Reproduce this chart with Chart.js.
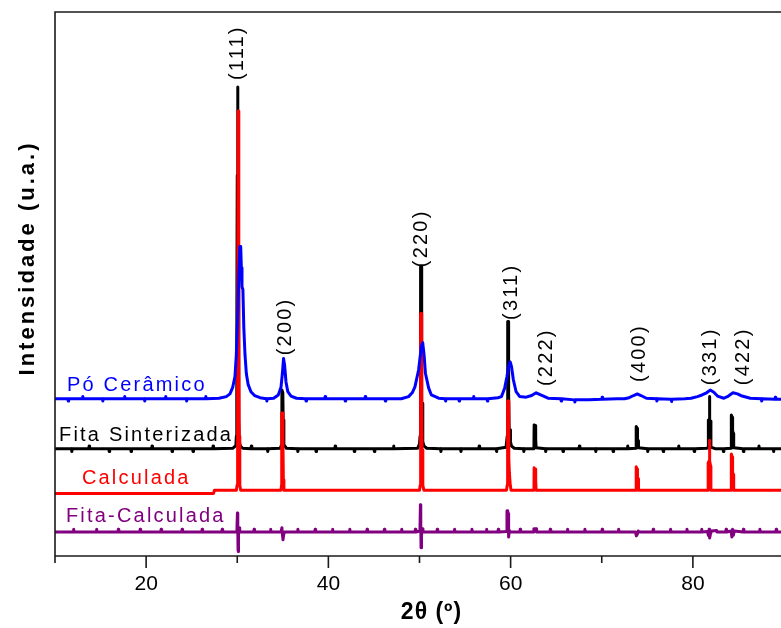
<!DOCTYPE html>
<html><head><meta charset="utf-8">
<script src="https://cdn.jsdelivr.net/npm/chart.js@4"></script>
<style>html,body{margin:0;padding:0;background:#fff;overflow:hidden;width:781px;height:628px}canvas{display:block}</style>
</head><body><canvas id="c" width="800" height="628"></canvas>
<script>
// ===== DATA (2θ in degrees, intensity in arbitrary units, traces offset) =====
const poCeramico = [[10,28.9],[11.4,28.9],[11.45,28.5],[11.5,28.9],[13.0,28.9],[13.05,29.3],[13.1,28.9],[15.2,28.9],[15.25,28.5],[15.3,28.9],[17.6,28.9],[17.65,29.3],[17.7,28.9],[19.8,28.9],[19.85,28.5],[19.9,28.9],[22.1,28.9],[22.15,29.3],[22.2,28.9],[24.4,28.9],[24.45,28.5],[24.5,28.9],[26.5,28.9],[26.55,29.3],[26.6,28.9],[28.0,29.0],[28.8,29.3],[29.2,29.8],[29.5,31],[29.75,33],[29.9,37],[30.05,44],[30.18,52],[30.28,56.9],[30.38,56.9],[30.45,53],[30.52,49.5],[30.62,49],[30.72,42],[30.85,37],[31.0,33.5],[31.2,31.5],[31.5,30.2],[31.9,29.5],[32.5,29.1],[33.2,28.9],[33.25,28.5],[33.3,28.9],[34.0,29.0],[34.5,29.6],[34.8,31.0],[34.95,33.5],[35.08,36.3],[35.2,35],[35.35,32],[35.55,30.2],[35.9,29.4],[36.5,29.0],[37.5,28.9],[37.55,28.5],[37.6,28.9],[39.6,28.9],[39.65,29.3],[39.7,28.9],[41.8,28.9],[41.85,28.5],[41.9,28.9],[44.0,28.9],[44.05,29.3],[44.1,28.9],[46.2,28.9],[46.25,28.5],[46.3,28.9],[48.0,28.9],[48.8,29.3],[49.2,30.0],[49.5,31.1],[49.9,34.2],[50.2,38.5],[50.35,39.2],[50.5,37],[50.65,33.6],[51.0,30.9],[51.3,29.6],[52.1,29.0],[52.8,28.9],[52.85,28.5],[52.9,28.9],[54.3,28.9],[54.35,28.5],[54.4,28.9],[55.9,28.9],[55.95,29.3],[56.0,28.9],[57.4,28.9],[57.45,28.5],[57.5,28.9],[58.6,29.1],[59.0,29.3],[59.35,30.9],[59.6,33.0],[59.8,35],[59.95,35.7],[60.1,34.8],[60.3,32.4],[60.6,30.2],[61.0,29.3],[61.7,29.2],[62.3,29.5],[62.8,30.0],[63.3,29.6],[64.1,29.0],[65.5,28.9],[65.55,28.5],[65.6,28.9],[67.0,28.7],[67.05,28.3],[67.1,28.7],[68.6,28.7],[70.0,28.8],[70.05,29.2],[70.1,28.8],[71.7,28.9],[72.5,28.9],[73.0,29.1],[73.5,29.5],[73.9,29.8],[74.3,29.5],[74.9,29.0],[76.0,28.9],[76.05,28.5],[76.1,28.9],[77.6,28.8],[77.65,28.4],[77.7,28.8],[79.1,28.9],[79.8,29.0],[80.5,29.3],[81.0,29.6],[81.5,30.0],[81.9,30.5],[82.3,30.1],[82.7,29.4],[83.4,29.0],[83.9,29.4],[84.4,30.0],[84.9,29.8],[85.4,29.4],[86.3,29.0],[87.5,28.9],[87.55,28.5],[87.6,28.9],[89.0,28.8],[89.05,29.2],[89.1,28.8],[90,28.8]];

const fitaSinterizada = [[10,19.7],[11.8,19.7],[11.85,19.2],[11.9,19.7],[13.7,19.7],[13.75,20.2],[13.8,19.7],[15.9,19.7],[15.95,19.2],[16.0,19.7],[18.3,19.7],[18.35,19.2],[18.4,19.7],[20.6,19.7],[20.65,20.2],[20.7,19.7],[22.8,19.7],[22.85,19.2],[22.9,19.7],[25.1,19.7],[25.15,19.2],[25.2,19.7],[27.3,19.7],[27.35,20.2],[27.4,19.7],[29.5,19.8],[29.85,20.3],[29.9,22],[29.95,40],[30.0,70],[30.04,86.2],[30.08,70],[30.1,52],[30.14,40],[30.18,25],[30.22,21],[30.35,20.2],[30.6,19.8],[31.5,19.7],[31.55,20.2],[31.6,19.7],[33.3,19.7],[33.35,19.2],[33.4,19.7],[34.7,19.8],[34.88,20.5],[34.9,30.5],[35.0,30],[35.04,25],[35.1,24],[35.13,20.5],[35.4,19.8],[36.6,19.7],[36.65,19.2],[36.7,19.7],[38.6,19.7],[38.65,19.2],[38.7,19.7],[40.7,19.7],[40.75,20.2],[40.8,19.7],[42.8,19.7],[42.85,19.2],[42.9,19.7],[45.0,19.7],[45.05,19.2],[45.1,19.7],[47.1,19.7],[47.15,20.2],[47.2,19.7],[49.8,19.8],[50.0,20.6],[50.06,22],[50.1,40],[50.14,53.2],[50.18,53.2],[50.22,40],[50.26,28.1],[50.32,28.1],[50.36,21],[50.5,20.2],[50.8,19.8],[52.3,19.7],[52.35,19.2],[52.4,19.7],[54.5,19.7],[54.55,19.2],[54.6,19.7],[56.5,19.7],[56.55,20.2],[56.6,19.7],[58.4,19.7],[58.45,19.2],[58.5,19.7],[59.5,20.0],[59.62,22],[59.66,35],[59.7,43.1],[59.74,43.1],[59.78,30],[59.84,23.2],[59.94,23.2],[59.98,21],[60.1,20.2],[60.4,19.8],[61.4,19.7],[61.45,19.2],[61.5,19.7],[62.5,19.7],[62.56,20],[62.58,24.1],[62.68,24.0],[62.72,22],[62.78,21.5],[62.8,19.9],[63.8,19.7],[63.85,19.2],[63.9,19.7],[65.7,19.7],[65.75,19.2],[65.8,19.7],[67.5,19.7],[67.55,20.2],[67.6,19.7],[69.3,19.7],[69.35,19.2],[69.4,19.7],[71.2,19.7],[71.25,19.2],[71.3,19.7],[72.8,19.7],[72.85,20.2],[72.9,19.7],[73.76,19.8],[73.78,23.8],[73.88,23.5],[73.92,21.5],[74.0,21.2],[74.03,19.9],[75.0,19.7],[75.05,19.2],[75.1,19.7],[76.7,19.7],[76.75,19.2],[76.8,19.7],[78.4,19.7],[78.45,20.2],[78.5,19.7],[80.1,19.7],[80.15,19.2],[80.2,19.7],[81.5,19.8],[81.68,19.9],[81.7,25],[81.78,25],[81.82,29.3],[81.86,25],[81.95,24.8],[81.98,20],[82.5,19.7],[83.3,19.7],[83.35,19.2],[83.4,19.7],[84.2,19.8],[84.22,25.9],[84.32,25.5],[84.36,23],[84.45,22.5],[84.48,19.9],[85.5,19.7],[85.55,19.2],[85.6,19.7],[87.2,19.7],[87.25,20.2],[87.3,19.7],[88.8,19.7],[88.85,19.2],[88.9,19.7],[90,19.7]];

const calculada = [[10,11.5],[27.4,11.5],[27.5,12.1],[29.9,12.1],[29.98,13],[30.04,30],[30.09,81.8],[30.15,81.8],[30.19,40],[30.22,22],[30.26,21],[30.3,13],[30.38,12.1],[34.8,12.1],[34.86,13],[34.88,26.3],[34.98,26.3],[35.02,20],[35.06,14],[35.12,12.1],[50.0,12.1],[50.08,13],[50.1,35],[50.15,44.6],[50.2,44.6],[50.24,30],[50.28,19.5],[50.35,19.5],[50.38,13],[50.48,12.1],[59.55,12.1],[59.62,13],[59.64,25],[59.7,28.5],[59.76,28.5],[59.8,18],[59.86,15.4],[59.92,15.4],[59.96,13],[60.05,12.1],[62.56,12.1],[62.58,16.2],[62.68,16.0],[62.72,14],[62.78,13.8],[62.8,12.1],[73.76,12.1],[73.78,16.4],[73.88,16.0],[73.92,14.5],[74.0,14.2],[74.03,12.1],[81.66,12.1],[81.68,17.1],[81.78,17.5],[81.82,21.3],[81.86,17.5],[81.95,16.5],[81.98,12.1],[84.2,12.1],[84.22,18.75],[84.32,18.2],[84.36,15.3],[84.45,15],[84.48,12.1],[90,12.1]];

const fitaMenosCalculada = [[10,4.4],[12.0,4.4],[12.05,4.9],[12.1,4.4],[14.5,4.4],[14.55,4.9],[14.6,4.4],[16.9,4.4],[16.95,4.9],[17.0,4.4],[19.3,4.4],[19.35,4.9],[19.4,4.4],[21.6,4.4],[21.65,4.9],[21.7,4.4],[23.9,4.4],[23.95,4.9],[24.0,4.4],[26.1,4.4],[26.15,4.9],[26.2,4.4],[28.3,4.4],[28.35,4.9],[28.4,4.4],[29.9,4.4],[29.97,5.2],[30.02,7.9],[30.06,4.6],[30.09,1.0],[30.12,0.8],[30.15,3.8],[30.2,5.2],[30.27,4.4],[31.8,4.4],[31.85,4.9],[31.9,4.4],[33.6,4.4],[33.65,4.9],[33.7,4.4],[34.8,4.4],[34.9,5.2],[34.96,3.9],[35.02,3.0],[35.1,4.0],[35.2,4.4],[36.6,4.4],[36.65,4.9],[36.7,4.4],[38.5,4.4],[38.55,4.9],[38.6,4.4],[40.4,4.4],[40.45,4.9],[40.5,4.4],[42.3,4.4],[42.35,4.9],[42.4,4.4],[44.2,4.4],[44.25,4.9],[44.3,4.4],[46.1,4.4],[46.15,4.9],[46.2,4.4],[48.0,4.4],[48.05,4.9],[48.1,4.4],[49.5,4.4],[49.55,4.9],[49.6,4.4],[50.05,4.6],[50.1,9.4],[50.14,5.5],[50.17,1.5],[50.2,1.5],[50.24,3.8],[50.3,5.0],[50.38,4.4],[51.9,4.4],[51.95,4.9],[52.0,4.4],[53.8,4.4],[53.85,4.9],[53.9,4.4],[55.7,4.4],[55.75,4.9],[55.8,4.4],[57.3,4.4],[57.35,4.9],[57.4,4.4],[58.6,4.4],[58.65,4.9],[58.7,4.4],[59.55,4.5],[59.6,8.3],[59.68,8.3],[59.72,7.8],[59.76,4.0],[59.8,3.5],[59.86,4.7],[59.95,4.4],[61.0,4.4],[61.05,4.9],[61.1,4.4],[62.5,4.4],[62.55,5.0],[62.8,5.0],[62.85,4.4],[64.3,4.4],[64.35,4.9],[64.4,4.4],[66.2,4.4],[66.25,4.9],[66.3,4.4],[68.1,4.4],[68.15,4.9],[68.2,4.4],[70.0,4.4],[70.05,4.9],[70.1,4.4],[71.8,4.4],[71.85,4.9],[71.9,4.4],[73.7,4.4],[73.8,3.7],[73.9,4.0],[74.0,4.6],[74.1,4.4],[75.6,4.4],[75.65,4.9],[75.7,4.4],[77.5,4.4],[77.55,4.9],[77.6,4.4],[79.3,4.4],[79.35,4.9],[79.4,4.4],[80.9,4.4],[80.95,4.9],[81.0,4.4],[81.6,4.5],[81.7,3.8],[81.78,4.9],[81.84,3.3],[81.92,4.0],[82.05,4.6],[82.6,4.7],[82.65,4.4],[83.6,4.4],[83.65,4.9],[83.7,4.4],[84.2,4.6],[84.28,3.5],[84.36,4.9],[84.44,3.8],[84.55,4.6],[85.5,4.4],[85.55,4.9],[85.6,4.4],[87.3,4.4],[87.35,4.9],[87.4,4.4],[89.1,4.4],[89.15,4.9],[89.2,4.4],[90,4.4]];

const seriesNames = ['Pó Cerâmico', 'Calculada', 'Fita Sinterizada', 'Fita-Calculada'];
const seriesNameAngle = [11.31, 12.95, 10.44, 11.2];       // 2θ where each name starts
const seriesNameLevel = [31.4, 14.3, 22.2, 7.2];           // intensity at name middle

const hklLabels = ['(111)', '(200)', '(220)', '(311)', '(222)', '(400)', '(331)', '(422)'];
const hklAngles = [30.0, 35.25, 50.2, 60.05, 63.9, 74.15, 81.9, 85.6];
const hklLevels = [87.5, 36.9, 53.1, 43.4, 31.25, 32.0, 31.4, 31.4];

const xTickValues = [10, 20, 30, 40, 50, 60, 70, 80, 90];
const xTickLabels = [20, 40, 60, 80];
const xTitle = '2θ (º)';
const yTitle = 'Intensidade (u.a.)';

// ===== STYLE =====
const FONT = "'Liberation Sans', Arial, Helvetica, sans-serif";
const seriesColors = ['#0000ff', '#ff0000', '#000000', '#800080'];

function toXY(arr) { return arr.map(p => ({ x: p[0], y: p[1] })); }

const overlay = {
  id: 'overlay',
  afterDatasetsDraw(chart) {
    const { ctx, chartArea: a, scales: { x, y } } = chart;
    ctx.save();
    ctx.strokeStyle = '#1a1a1a';
    ctx.lineWidth = 1.6;
    ctx.beginPath();
    ctx.moveTo(a.left, a.bottom); ctx.lineTo(a.left, a.top); ctx.lineTo(a.right + 5, a.top);
    ctx.stroke();
    ctx.beginPath();
    ctx.moveTo(a.left, a.bottom); ctx.lineTo(a.right + 5, a.bottom);
    ctx.stroke();
    xTickValues.forEach(v => {
      const px = x.getPixelForValue(v);
      const len = xTickLabels.includes(v) ? 12 : 7;
      ctx.beginPath(); ctx.moveTo(px, a.bottom); ctx.lineTo(px, a.bottom + len); ctx.stroke();
    });

    // series names
    ctx.textAlign = 'left';
    ctx.textBaseline = 'middle';
    ctx.font = '20px ' + FONT;
    ctx.letterSpacing = '2.2px';
    seriesNames.forEach((n, i) => {
      ctx.fillStyle = seriesColors[i];
      ctx.fillText(n, x.getPixelForValue(seriesNameAngle[i]), y.getPixelForValue(seriesNameLevel[i]));
    });

    // hkl labels
    ctx.fillStyle = '#000';
    hklLabels.forEach((t, i) => {
      ctx.save();
      ctx.translate(x.getPixelForValue(hklAngles[i]), y.getPixelForValue(hklLevels[i]));
      ctx.rotate(-Math.PI / 2);
      ctx.textAlign = 'left';
      ctx.textBaseline = 'middle';
      ctx.fillText(t, 0, 0);
      ctx.restore();
    });

    // axis titles
    ctx.font = 'bold 23px ' + FONT;
    ctx.letterSpacing = '1px';
    ctx.textAlign = 'center';
    ctx.fillText(xTitle, (a.left + a.right) / 2 + 12, a.bottom + 57);

    ctx.save();
    ctx.font = 'bold 22px ' + FONT;
    ctx.letterSpacing = '3px';
    ctx.translate(a.left - 27, (a.top + a.bottom) / 2 - 26);
    ctx.rotate(-Math.PI / 2);
    ctx.textAlign = 'center';
    ctx.textBaseline = 'middle';
    ctx.fillText(yTitle, 0, 0);
    ctx.restore();
    ctx.restore();
  }
};

const seriesData = [poCeramico, calculada, fitaSinterizada, fitaMenosCalculada];

new Chart(document.getElementById('c'), {
  type: 'line',
  data: {
    datasets: seriesData.map((d, i) => ({
      label: seriesNames[i],
      data: toXY(d),
      borderColor: seriesColors[i],
      backgroundColor: seriesColors[i],
      fill: false
    }))
  },
  options: {
    responsive: false,
    animation: false,
    layout: { padding: { left: 55, top: 12, right: 12, bottom: 0 } },
    elements: { point: { radius: 0 }, line: { borderWidth: 3, tension: 0, borderJoinStyle: 'round', borderCapStyle: 'round' } },
    plugins: { legend: { display: false }, tooltip: { enabled: false } },
    scales: {
      x: {
        type: 'linear', min: 10, max: 90,
        grid: { display: false, drawTicks: false },
        border: { display: false },
        ticks: {
          stepSize: 10, autoSkip: false, maxRotation: 0, padding: 16, color: '#000',
          font: { family: FONT, size: 21 },
          callback: v => xTickLabels.includes(v) ? String(v) : ''
        },
        afterFit(s) { s.height = 72; }
      },
      y: { display: false, min: 0, max: 100 }
    }
  },
  plugins: [overlay]
});
</script>
</body></html>
